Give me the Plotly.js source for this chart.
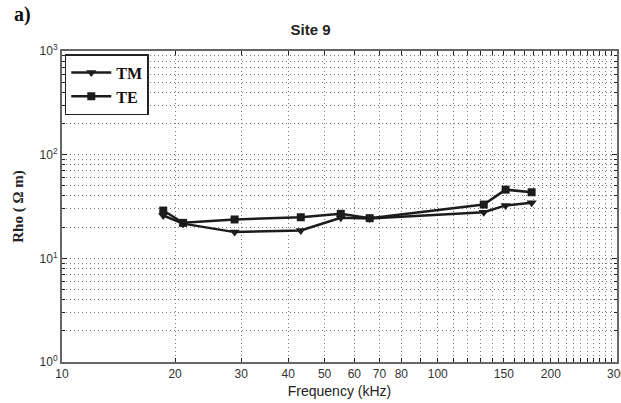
<!DOCTYPE html>
<html><head><meta charset="utf-8">
<script src="https://cdn.plot.ly/plotly-3.0.1.min.js"></script>
<style>html,body{margin:0;padding:0;background:#fff}#chart{width:621px;height:403px}</style>
</head><body><div id="chart"></div>
<script>
const freqKHz = [18.6, 21.0, 28.8, 43.2, 55.2, 65.9, 132.6, 151.6, 177.8];
const rhoTM = [25.9, 21.6, 17.9, 18.6, 24.6, 24.2, 27.9, 32.4, 34.4];
const rhoTE = [28.9, 22.0, 23.7, 24.9, 26.9, 24.4, 33.0, 46.0, 43.4];
const xTickVals = [10,20,30,40,50,60,70,80,90,100,110,120,130,140,150,160,170,180,190,200,210,220,230,240,250,260,270,280,290,300];
const xTickText = ['10','20','30','40','50','60','70','80','','100','','','','','150','','','','','200','','','','','','','','','','300'];
const yTickVals = [1,10,100,1000];
const yTickText = ['10<sup>0</sup>','10<sup>1</sup>','10<sup>2</sup>','10<sup>3</sup>'];
const yMinorVals = [2,3,4,5,6,7,8,9,20,30,40,50,60,70,80,90,200,300,400,500,600,700,800,900];

const lineCol = '#1c1c1c';
const traces = [
  {x: freqKHz, y: rhoTM, name: 'TM', mode: 'lines+markers', type: 'scatter',
   line: {color: lineCol, width: 2.5}, marker: {symbol: 'triangle-down', size: 9, color: lineCol}},
  {x: freqKHz, y: rhoTE, name: 'TE', mode: 'lines+markers', type: 'scatter',
   line: {color: lineCol, width: 2.5}, marker: {symbol: 'square', size: 8, color: lineCol}}
];
const gridCol = '#777';
const gd = '1px,3px';
const layout = {
  width: 621, height: 403,
  margin: {l: 62, r: 4, t: 51, b: 41},
  paper_bgcolor: '#fff', plot_bgcolor: '#fff',
  showlegend: true,
  title: {text: '<b>Site 9</b>', x: 0.5, xanchor: 'center', y: 0.925, yanchor: 'middle',
          font: {family: 'Liberation Sans, Arial, sans-serif', size: 15, color: '#222'}},
  legend: {x: 0.005, y: 0.99, xanchor: 'left', yanchor: 'top', bgcolor: '#fff',
           bordercolor: '#222', borderwidth: 1.5, tracegroupgap: 0, itemwidth: 40,
           font: {family: 'Liberation Serif, Times New Roman, serif', size: 16, color: '#111', weight: 'bold'}},
  xaxis: {type: 'log', range: [1, Math.log10(300.01)], tickmode: 'array', tickvals: xTickVals, ticktext: xTickText,
          ticks: 'inside', ticklen: 4, tickcolor: '#222', showline: true, linecolor: '#666', linewidth: 2, mirror: 'ticks',
          showgrid: true, gridcolor: gridCol, griddash: gd, gridwidth: 1, zeroline: false, ticklabeloverflow: 'allow',
          tickfont: {family: 'Liberation Sans, Arial, sans-serif', size: 12, color: '#333'},
          title: {text: 'Frequency (kHz)', standoff: 6, font: {family: 'Liberation Sans, Arial, sans-serif', size: 14, color: '#222'}}},
  yaxis: {type: 'log', range: [0, 3], tickmode: 'array', tickvals: yTickVals, ticktext: yTickText,
          ticks: 'inside', ticklen: 5, tickcolor: '#222', showline: true, linecolor: '#666', linewidth: 2, mirror: 'ticks',
          showgrid: true, gridcolor: gridCol, griddash: gd, gridwidth: 1, zeroline: false,
          minor: {tickmode: 'array', tickvals: yMinorVals, ticks: 'inside', ticklen: 3, tickcolor: '#222',
                  showgrid: true, gridcolor: gridCol, griddash: gd, gridwidth: 1},
          tickfont: {family: 'Liberation Sans, Arial, sans-serif', size: 12, color: '#333'},
          title: {text: '<b>Rho ( Ω m)</b>', standoff: 12, font: {family: 'Liberation Serif, Times New Roman, serif', size: 15, color: '#222'}}},
  annotations: [{text: '<b>a)</b>', xref: 'paper', yref: 'paper', x: -0.09, y: 1.116, xanchor: 'left', yanchor: 'middle',
                 showarrow: false, font: {family: 'Liberation Serif, Times New Roman, serif', size: 20, color: '#111'}}]
};
Plotly.newPlot('chart', traces, layout, {displayModeBar: false, staticPlot: true});
</script></body></html>
